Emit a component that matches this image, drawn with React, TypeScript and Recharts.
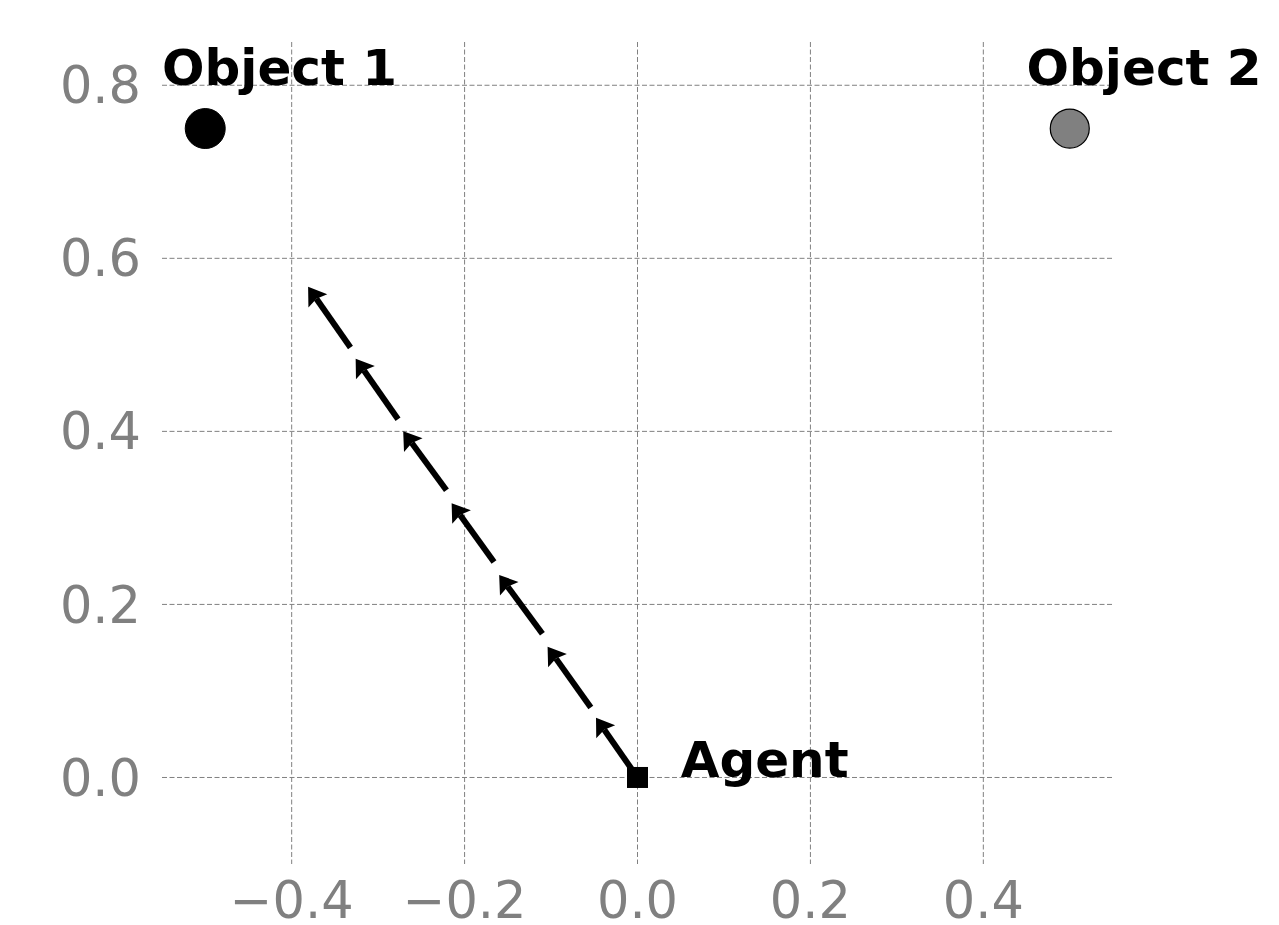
import React from 'react';
import { ScatterChart, Scatter, XAxis, YAxis, CartesianGrid, ReferenceLine } from 'recharts';

const xTicks = [-0.4, -0.2, 0.0, 0.2, 0.4];
const yTicks = [0.0, 0.2, 0.4, 0.6, 0.8];

const arrowTailX = [0.0, -0.054, -0.110, -0.166, -0.221, -0.277, -0.332];
const arrowTailY = [0.0, 0.081, 0.166, 0.249, 0.332, 0.414, 0.497];
const arrowTipX = [-0.048, -0.104, -0.160, -0.215, -0.271, -0.326, -0.381];
const arrowTipY = [0.069, 0.151, 0.234, 0.317, 0.400, 0.484, 0.567];

const objects1 = [{ x: -0.5, y: 0.75 }];
const objects2 = [{ x: 0.5, y: 0.75 }];
const agent = [{ x: 0.0, y: 0.0 }];
const labelNames = ['Object 1', 'Object 2', 'Agent'];
const labelX = [-0.55, 0.45, 0.05];
const labelY = [0.8, 0.8, 0.0];

const labels = labelNames.map((name, i) => ({ x: labelX[i], y: labelY[i], name }));

const fmt = (v: number) => (v < 0 ? '\u2212' : '') + Math.abs(v).toFixed(1);

const tickStyle = { fill: '#808080', fontSize: 51, fontFamily: 'DejaVu Sans' };

const Arrow = (p: any) => {
  const { x1, y1, x2, y2 } = p;
  const dx = x2 - x1;
  const dy = y2 - y1;
  const len = Math.sqrt(dx * dx + dy * dy) || 1;
  const ux = dx / len;
  const uy = dy / len;
  const nx = -uy;
  const ny = ux;
  const L = 17;
  const W = 23;
  const N = 14.5;
  const bx = x2 - ux * L;
  const by = y2 - uy * L;
  const pts = [
    [x2, y2],
    [bx + nx * W / 2, by + ny * W / 2],
    [x2 - ux * N, y2 - uy * N],
    [bx - nx * W / 2, by - ny * W / 2],
  ]
    .map((q) => q.join(','))
    .join(' ');
  return (
    <g>
      <line x1={x1} y1={y1} x2={x2 - ux * N} y2={y2 - uy * N} stroke="#000" strokeWidth={6} />
      <polygon points={pts} fill="#000" />
    </g>
  );
};

export default function App() {
  return (
    <div style={{ position: 'absolute', left: 0, top: 0, width: 1279, height: 925, background: '#fff' }}>
      <ScatterChart width={1279} height={925} margin={{ top: 42, right: 166, bottom: 0, left: 0 }}>
        <CartesianGrid
          stroke="#808080"
          strokeWidth={1}
          strokeDasharray="5 2.5"
          horizontalValues={yTicks}
          verticalValues={xTicks}
        />
        <XAxis
          type="number"
          dataKey="x"
          domain={[-0.55, 0.55]}
          ticks={xTicks}
          tickFormatter={fmt}
          axisLine={false}
          tickLine={false}
          tickSize={0}
          tickMargin={18}
          height={61}
          tick={tickStyle}
        />
        <YAxis
          type="number"
          dataKey="y"
          domain={[-0.1, 0.85]}
          ticks={yTicks}
          tickFormatter={fmt}
          axisLine={false}
          tickLine={false}
          tickSize={0}
          tickMargin={21}
          width={162}
          tick={tickStyle}
        />
        {arrowTailX.map((tx, i) => (
          <ReferenceLine
            key={i}
            segment={[
              { x: tx, y: arrowTailY[i] },
              { x: arrowTipX[i], y: arrowTipY[i] },
            ]}
            ifOverflow="visible"
            shape={Arrow}
          />
        ))}
        <Scatter
          data={objects1}
          isAnimationActive={false}
          shape={(p: any) => <circle cx={p.cx} cy={p.cy} r={20} fill="#000" stroke="#000" strokeWidth={1} />}
        />
        <Scatter
          data={objects2}
          isAnimationActive={false}
          shape={(p: any) => <circle cx={p.cx} cy={p.cy} r={19.5} fill="#808080" stroke="#000" strokeWidth={1.2} />}
        />
        <Scatter
          data={agent}
          isAnimationActive={false}
          shape={(p: any) => <rect x={p.cx - 10.5} y={p.cy - 10.5} width={21} height={21} fill="#000" />}
        />
        <Scatter
          data={labels}
          isAnimationActive={false}
          shape={(p: any) => (
            <text
              x={p.cx}
              y={p.cy}
              textAnchor="start"
              fontFamily="DejaVu Sans"
              fontWeight="bold"
              fontSize={50}
              fill="#000"
            >
              {p.payload.name}
            </text>
          )}
        />
      </ScatterChart>
    </div>
  );
}
